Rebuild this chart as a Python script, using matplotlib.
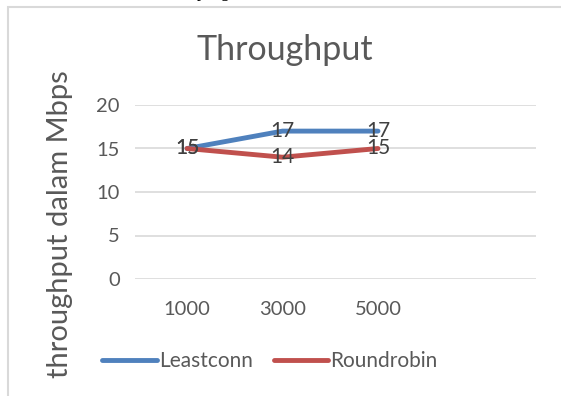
import matplotlib
matplotlib.use('Agg')
from matplotlib import pyplot as plt
from matplotlib.patches import Rectangle
import numpy as np

# data
categories = ['1000', '3000', '5000']
leastconn = [15, 17, 17]
roundrobin = [15, 14, 15]
series_names = ['Leastconn', 'Roundrobin']
y_ticks = [0, 5, 10, 15, 20]

blue = '#4F81BD'
red = '#C0504D'
grey_text = '#595959'
grid_col = '#D9D9D9'

plt.rcParams['font.family'] = ['Lato', 'DejaVu Sans']

W, H = 561, 396
fig = plt.figure(figsize=(W / 100, H / 100), dpi=100)


def fx(px):
    return px / W


def fy(py):
    return 1 - py / H


# chart frame (runs off right and bottom of the picture)
fig.patches.append(Rectangle((fx(8), fy(420)), fx(600), fy(7) - fy(420),
                             transform=fig.transFigure, facecolor='none',
                             edgecolor=grid_col, lw=1.5))

# clipped line of body text above the chart
fig.text(fx(20), fy(-3), 'data oleh sistem dari hasil pengiriman data.',
         family='Liberation Serif', fontsize=12, color='black',
         va='baseline', ha='left')

ax = fig.add_axes([fx(135), fy(279), fx(536) - fx(135), fy(105) - fy(279)])

x = np.arange(len(categories))
ax.plot(x, leastconn, color=blue, lw=3.5, solid_capstyle='round',
        label=series_names[0], zorder=3)
ax.plot(x, roundrobin, color=red, lw=3.5, solid_capstyle='round',
        label=series_names[1], zorder=3)

# data labels centred on the points
for xi, v in zip(x, leastconn):
    ax.text(xi, v, str(v), ha='center', va='center', fontsize=15,
            color='#404040', zorder=4)
for xi, v in zip(x, roundrobin):
    ax.text(xi, v, str(v), ha='center', va='center', fontsize=15,
            color='#404040', zorder=4)

ax.set_xlim(-0.545, 3.655)
ax.set_ylim(0, 20)
ax.set_yticks(y_ticks)
ax.set_xticks(x)
ax.set_xticklabels(categories)
ax.grid(axis='y', color=grid_col, lw=1.2)
ax.set_axisbelow(True)
for s in ax.spines.values():
    s.set_visible(False)
ax.tick_params(axis='both', length=0, labelsize=14.5, colors=grey_text)
ax.tick_params(axis='x', pad=16)
ax.tick_params(axis='y', pad=11)

fig.text(fx(285), fy(50), 'Throughput', ha='center', va='center',
         fontsize=24.5, color=grey_text)
fig.text(fx(60), fy(224), 'throughput dalam Mbps', ha='center', va='center',
         rotation=90, fontsize=21, color=grey_text)

fig.legend(loc='center', bbox_to_anchor=(fx(270), fy(361)), ncol=2,
           frameon=False, fontsize=15, labelcolor=grey_text,
           handlelength=2.6, handletextpad=0.12, columnspacing=1.0)

fig.savefig('out.png', dpi=100)
